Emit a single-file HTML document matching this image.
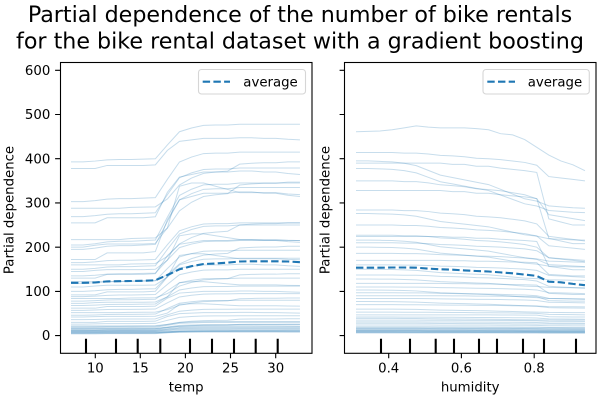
<!DOCTYPE html>
<html>
<head>
<meta charset="utf-8">
<style>
html,body{margin:0;padding:0;background:#fff;width:600px;height:400px;overflow:hidden;}
svg{display:block}
.ice path{fill:none;stroke:#1f77b4;stroke-opacity:.25;stroke-width:1;vector-effect:non-scaling-stroke}
text{font-family:"DejaVu Sans","Liberation Sans",sans-serif;fill:#000}
.s{font-size:13.3px}
</style>
</head>
<body>
<svg width="600" height="400" viewBox="0 0 600 400" xmlns="http://www.w3.org/2000/svg">
<rect x="0" y="0" width="600" height="400" fill="#fff"/>

<!-- Title -->
<text x="300" y="22" font-size="22.2" text-anchor="middle">Partial dependence of the number of bike rentals</text>
<text x="300" y="48.5" font-size="22.2" text-anchor="middle">for the bike rental dataset with a gradient boosting</text>

<!-- LEFT ICE lines -->
<g class="ice" transform="translate(71 335.6) scale(12.05 -0.4422)">
<path d="M0 0L1 0L2 .02L3 .05L4 .06L5 .06L6 .07L7 .08L8 .45L9 .8L10 .9L11 .97L12 .98L13 .98L14 1L19 1" transform="translate(0 393) scale(1 85)"/>
<path d="M0 0L2 0L3 .1L6 .1L7 .12L8 .6L9 .9L10 .95L11 1L13 1L14 1.02L15 1.02L16 1L17 1L18 .97L19 .95" transform="translate(0 378) scale(1 68)"/>
<path d="M0 0L1 0L2 .02L3 .05L4 .06L5 .06L6 .07L7 .08L8 .45L9 .8L10 .9L11 .97L12 .98L13 .98L14 1L19 1" transform="translate(0 303) scale(1 112)"/>
<path d="M0 0L4 0L5 .02L7 .03L8 .2L9 .5L10 .65L11 .75L12 .78L13 .8L14 .95L15 .97L16 .98L17 .98L18 1L19 1" transform="translate(0 288) scale(1 105)"/>
<path d="M0 0L1 0L2 .02L3 .05L4 .06L5 .06L6 .07L7 .08L8 .45L9 .8L10 .9L11 .97L12 .98L13 .98L14 1L19 1" transform="translate(0 269) scale(1 110)"/>
<path d="M0 0L2 0L3 .1L6 .1L7 .12L8 .6L9 .9L10 .95L11 1L13 1L14 1.02L15 1.02L16 1L17 1L18 .97L19 .95" transform="translate(0 255) scale(1 115)"/>
<path d="M0 0L4 0L5 .02L7 .03L8 .2L9 .5L10 .65L11 .75L12 .78L13 .8L14 .95L15 .97L16 .98L17 .98L18 1L19 1" transform="translate(0 217) scale(1 130)"/>
<path d="M0 0L1 0L2 .02L3 .05L4 .06L5 .06L6 .07L7 .08L8 .45L9 .8L10 .9L11 .97L12 .98L13 .98L14 1L19 1" transform="translate(0 205) scale(1 140)"/>
<path d="M0 0L1 0L2 .03L3 .05L6 .05L7 .06L8 .3L9 .95L10 1L11 1L12 .95L13 .9L14 .85L17 .85L18 .83L19 .82" transform="translate(0 200) scale(1 145)"/>
<path d="M0 0L1 0L2 .02L3 .05L4 .06L5 .06L6 .07L7 .08L8 .45L9 .8L10 .9L11 .97L12 .98L13 .98L14 1L19 1" transform="translate(0 195) scale(1 140)"/>
<path d="M0 0L2 0L3 .1L6 .1L7 .12L8 .6L9 .9L10 .95L11 1L13 1L14 1.02L15 1.02L16 1L17 1L18 .97L19 .95" transform="translate(0 172) scale(1 150)"/>
<path d="M0 0L1 0L2 .02L3 .05L4 .06L5 .06L6 .07L7 .08L8 .45L9 .8L10 .9L11 .97L12 .98L13 .98L14 1L19 1" transform="translate(0 165) scale(1 90)"/>
<path d="M0 0L4 0L5 .02L7 .03L8 .2L9 .5L10 .65L11 .75L12 .78L13 .8L14 .95L15 .97L16 .98L17 .98L18 1L19 1" transform="translate(0 160) scale(1 95)"/>
<path d="M0 0L1 0L2 .02L3 .05L4 .06L5 .06L6 .07L7 .08L8 .45L9 .8L10 .9L11 .97L12 .98L13 .98L14 1L19 1" transform="translate(0 150) scale(1 100)"/>
<path d="M0 0L1 0L2 .03L3 .05L6 .05L7 .06L8 .3L9 .95L10 1L11 1L12 .95L13 .9L14 .85L17 .85L18 .83L19 .82" transform="translate(0 145) scale(1 85)"/>
<path d="M0 0L1 0L2 .02L3 .05L4 .06L5 .06L6 .07L7 .08L8 .45L9 .8L10 .9L11 .97L12 .98L13 .98L14 1L19 1" transform="translate(0 135) scale(1 80)"/>
<path d="M0 0L2 0L3 .1L6 .1L7 .12L8 .6L9 .9L10 .95L11 1L13 1L14 1.02L15 1.02L16 1L17 1L18 .97L19 .95" transform="translate(0 130) scale(1 85)"/>
<path d="M0 0L4 0L5 .02L7 .03L8 .2L9 .5L10 .65L11 .75L12 .78L13 .8L14 .95L15 .97L16 .98L17 .98L18 1L19 1" transform="translate(0 122) scale(1 80)"/>
<path d="M0 0L1 0L2 .02L3 .05L4 .06L5 .06L6 .07L7 .08L8 .45L9 .8L10 .9L11 .97L12 .98L13 .98L14 1L19 1" transform="translate(0 118) scale(1 75)"/>
<path d="M0 0L1 0L2 .03L3 .05L6 .05L7 .06L8 .3L9 .95L10 1L11 1L12 .95L13 .9L14 .85L17 .85L18 .83L19 .82" transform="translate(0 110) scale(1 75)"/>
<path d="M0 0L1 0L2 .02L3 .05L4 .06L5 .06L6 .07L7 .08L8 .45L9 .8L10 .9L11 .97L12 .98L13 .98L14 1L19 1" transform="translate(0 100) scale(1 75)"/>
<path d="M0 0L2 0L3 .1L6 .1L7 .12L8 .6L9 .9L10 .95L11 1L13 1L14 1.02L15 1.02L16 1L17 1L18 .97L19 .95" transform="translate(0 92) scale(1 68)"/>
<path d="M0 0L1 0L2 .02L3 .05L4 .06L5 .06L6 .07L7 .08L8 .45L9 .8L10 .9L11 .97L12 .98L13 .98L14 1L19 1" transform="translate(0 88) scale(1 62)"/>
<path d="M0 0L4 0L5 .02L7 .03L8 .2L9 .5L10 .65L11 .75L12 .78L13 .8L14 .95L15 .97L16 .98L17 .98L18 1L19 1" transform="translate(0 84) scale(1 56)"/>
<path d="M0 0L1 0L2 .02L3 .05L4 .06L5 .06L6 .07L7 .08L8 .45L9 .8L10 .9L11 .97L12 .98L13 .98L14 1L19 1" transform="translate(0 78) scale(1 52)"/>
<path d="M0 0L1 0L2 .03L3 .05L6 .05L7 .06L8 .3L9 .95L10 1L11 1L12 .95L13 .9L14 .85L17 .85L18 .83L19 .82" transform="translate(0 73) scale(1 49)"/>
<path d="M0 0L1 0L2 .02L3 .05L4 .06L5 .06L6 .07L7 .08L8 .45L9 .8L10 .9L11 .97L12 .98L13 .98L14 1L19 1" transform="translate(0 68) scale(1 44)"/>
<path d="M0 0L2 0L3 .1L6 .1L7 .12L8 .6L9 .9L10 .95L11 1L13 1L14 1.02L15 1.02L16 1L17 1L18 .97L19 .95" transform="translate(0 62) scale(1 38)"/>
<path d="M0 0L1 0L2 .02L3 .05L4 .06L5 .06L6 .07L7 .08L8 .45L9 .8L10 .9L11 .97L12 .98L13 .98L14 1L19 1" transform="translate(0 57) scale(1 38)"/>
<path d="M0 0L4 0L5 .02L7 .03L8 .2L9 .5L10 .65L11 .75L12 .78L13 .8L14 .95L15 .97L16 .98L17 .98L18 1L19 1" transform="translate(0 52) scale(1 33)"/>
<path d="M0 0L1 0L2 .02L3 .05L4 .06L5 .06L6 .07L7 .08L8 .45L9 .8L10 .9L11 .97L12 .98L13 .98L14 1L19 1" transform="translate(0 46) scale(1 34)"/>
<path d="M0 0L1 0L2 .03L3 .05L6 .05L7 .06L8 .3L9 .95L10 1L11 1L12 .95L13 .9L14 .85L17 .85L18 .83L19 .82" transform="translate(0 42) scale(1 30)"/>
<path d="M0 0L1 0L2 .02L3 .05L4 .06L5 .06L6 .07L7 .08L8 .45L9 .8L10 .9L11 .97L12 .98L13 .98L14 1L19 1" transform="translate(0 36) scale(1 24)"/>
<path d="M0 0L2 0L3 .1L6 .1L7 .12L8 .6L9 .9L10 .95L11 1L13 1L14 1.02L15 1.02L16 1L17 1L18 .97L19 .95" transform="translate(0 30) scale(1 22)"/>
<path d="M0 0L1 0L2 .02L3 .05L4 .06L5 .06L6 .07L7 .08L8 .45L9 .8L10 .9L11 .97L12 .98L13 .98L14 1L19 1" transform="translate(0 26) scale(1 19)"/>
<path d="M0 0L4 0L5 .02L7 .03L8 .2L9 .5L10 .65L11 .75L12 .78L13 .8L14 .95L15 .97L16 .98L17 .98L18 1L19 1" transform="translate(0 22) scale(1 16)"/>
<path d="M0 0L1 0L2 .02L3 .05L4 .06L5 .06L6 .07L7 .08L8 .45L9 .8L10 .9L11 .97L12 .98L13 .98L14 1L19 1" transform="translate(0 18) scale(1 12)"/>
<path d="M0 0L1 0L2 .02L3 .05L4 .06L5 .06L6 .07L7 .08L8 .45L9 .8L10 .9L11 .97L12 .98L13 .98L14 1L19 1" transform="translate(0 15) scale(1 10)"/>
<path d="M0 0L2 0L3 .1L6 .1L7 .12L8 .6L9 .9L10 .95L11 1L13 1L14 1.02L15 1.02L16 1L17 1L18 .97L19 .95" transform="translate(0 13) scale(1 9)"/>
<path d="M0 0L1 0L2 .02L3 .05L4 .06L5 .06L6 .07L7 .08L8 .45L9 .8L10 .9L11 .97L12 .98L13 .98L14 1L19 1" transform="translate(0 11) scale(1 7)"/>
<path d="M0 0L1 0L2 .02L3 .05L4 .06L5 .06L6 .07L7 .08L8 .45L9 .8L10 .9L11 .97L12 .98L13 .98L14 1L19 1" transform="translate(0 9) scale(1 5)"/>
<path d="M0 0L4 0L5 .02L7 .03L8 .2L9 .5L10 .65L11 .75L12 .78L13 .8L14 .95L15 .97L16 .98L17 .98L18 1L19 1" transform="translate(0 8) scale(1 4)"/>
<path d="M0 0L1 0L2 .02L3 .05L4 .06L5 .06L6 .07L7 .08L8 .45L9 .8L10 .9L11 .97L12 .98L13 .98L14 1L19 1" transform="translate(0 6) scale(1 4)"/>
<path d="M0 0L1 0L2 .02L3 .05L4 .06L5 .06L6 .07L7 .08L8 .45L9 .8L10 .9L11 .97L12 .98L13 .98L14 1L19 1" transform="translate(0 5) scale(1 4)"/>
<path d="M0 0L2 0L3 .1L6 .1L7 .12L8 .6L9 .9L10 .95L11 1L13 1L14 1.02L15 1.02L16 1L17 1L18 .97L19 .95" transform="translate(0 4) scale(1 4)"/>
<path d="M0 0L1 0L2 .02L3 .05L4 .06L5 .06L6 .07L7 .08L8 .45L9 .8L10 .9L11 .97L12 .98L13 .98L14 1L19 1" transform="translate(0 12) scale(1 8)"/>
<path d="M0 0L1 0L2 .02L3 .05L4 .06L5 .06L6 .07L7 .08L8 .45L9 .8L10 .9L11 .97L12 .98L13 .98L14 1L19 1" transform="translate(0 10) scale(1 6)"/>
<path d="M0 0L1 0L2 .02L3 .05L4 .06L5 .06L6 .07L7 .08L8 .45L9 .8L10 .9L11 .97L12 .98L13 .98L14 1L19 1" transform="translate(0 7) scale(1 4)"/>
<path d="M0 0L4 0L5 .02L7 .03L8 .2L9 .5L10 .65L11 .75L12 .78L13 .8L14 .95L15 .97L16 .98L17 .98L18 1L19 1" transform="translate(0 16) scale(1 10)"/>
<path d="M0 0L1 0L2 .02L3 .05L4 .06L5 .06L6 .07L7 .08L8 .45L9 .8L10 .9L11 .97L12 .98L13 .98L14 1L19 1" transform="translate(0 20) scale(1 12)"/>
</g>

<!-- RIGHT ICE lines -->
<g class="ice" transform="translate(356 335.6) scale(12.05 -0.4422)">
<path d="M0 0L2 -.02L3 -.05L4 -.1L5 -.15L6 -.12L7 -.1L9 -.1L10 -.08L11 -.05L12 .05L13 .08L14 .2L15 .4L16 .6L17 .75L18 .85L19 1" transform="translate(0 461) scale(1 -88)"/>
<path d="M0 0L3 0L4 .02L5 .02L6 .05L7 .1L8 .12L9 .15L10 .2L11 .22L12 .25L13 .3L14 .35L15 .45L16 .85L17 .9L18 .95L19 1" transform="translate(0 414) scale(1 -64)"/>
<path d="M0 0L1 0L2 .01L3 .02L4 .05L5 .1L6 .2L7 .3L8 .35L9 .4L10 .45L11 .5L12 .6L13 .7L14 .8L15 .85L16 .95L17 .97L18 .99L19 1" transform="translate(0 395) scale(1 -107)"/>
<path d="M0 0L7 0L8 .02L9 .02L10 .05L11 .05L12 .08L13 .1L14 .12L15 .15L16 .9L17 .95L18 1L19 1" transform="translate(0 390) scale(1 -140)"/>
<path d="M0 0L1 0L2 .01L3 .02L4 .05L5 .1L6 .2L7 .3L8 .35L9 .4L10 .45L11 .5L12 .6L13 .7L14 .8L15 .85L16 .95L17 .97L18 .99L19 1" transform="translate(0 378) scale(1 -100)"/>
<path d="M0 0L3 0L4 .02L5 .02L6 .05L7 .1L8 .12L9 .15L10 .2L11 .22L12 .25L13 .3L14 .35L15 .45L16 .85L17 .9L18 .95L19 1" transform="translate(0 350) scale(1 -90)"/>
<path d="M0 0L7 0L8 .02L9 .02L10 .05L11 .05L12 .08L13 .1L14 .12L15 .15L16 .9L17 .95L18 1L19 1" transform="translate(0 328) scale(1 -120)"/>
<path d="M0 0L3 0L4 .02L5 .02L6 .05L7 .1L8 .12L9 .15L10 .2L11 .22L12 .25L13 .3L14 .35L15 .45L16 .85L17 .9L18 .95L19 1" transform="translate(0 284) scale(1 -70)"/>
<path d="M0 0L1 0L2 .01L3 .02L4 .05L5 .1L6 .2L7 .3L8 .35L9 .4L10 .45L11 .5L12 .6L13 .7L14 .8L15 .85L16 .95L17 .97L18 .99L19 1" transform="translate(0 276) scale(1 -60)"/>
<path d="M0 0L3 0L4 .02L5 .02L6 .05L7 .1L8 .12L9 .15L10 .2L11 .22L12 .25L13 .3L14 .35L15 .45L16 .85L17 .9L18 .95L19 1" transform="translate(0 250) scale(1 -55)"/>
<path d="M0 0L3 0L4 .02L5 .02L6 .05L7 .1L8 .12L9 .15L10 .2L11 .22L12 .25L13 .3L14 .35L15 .45L16 .85L17 .9L18 .95L19 1" transform="translate(0 227) scale(1 -60)"/>
<path d="M0 0L7 0L8 .02L9 .02L10 .05L11 .05L12 .08L13 .1L14 .12L15 .15L16 .9L17 .95L18 1L19 1" transform="translate(0 224) scale(1 -75)"/>
<path d="M0 0L1 0L2 .01L3 .02L4 .05L5 .1L6 .2L7 .3L8 .35L9 .4L10 .45L11 .5L12 .6L13 .7L14 .8L15 .85L16 .95L17 .97L18 .99L19 1" transform="translate(0 216) scale(1 -50)"/>
<path d="M0 0L3 0L4 .02L5 .02L6 .05L7 .1L8 .12L9 .15L10 .2L11 .22L12 .25L13 .3L14 .35L15 .45L16 .85L17 .9L18 .95L19 1" transform="translate(0 210) scale(1 -40)"/>
<path d="M0 0L1 0L2 .01L3 .02L4 .05L5 .1L6 .2L7 .3L8 .35L9 .4L10 .45L11 .5L12 .6L13 .7L14 .8L15 .85L16 .95L17 .97L18 .99L19 1" transform="translate(0 200) scale(1 -45)"/>
<path d="M0 0L3 0L4 .02L5 .02L6 .05L7 .1L8 .12L9 .15L10 .2L11 .22L12 .25L13 .3L14 .35L15 .45L16 .85L17 .9L18 .95L19 1" transform="translate(0 186) scale(1 -30)"/>
<path d="M0 0L7 0L8 .02L9 .02L10 .05L11 .05L12 .08L13 .1L14 .12L15 .15L16 .9L17 .95L18 1L19 1" transform="translate(0 170) scale(1 -35)"/>
<path d="M0 0L3 0L4 .02L5 .02L6 .05L7 .1L8 .12L9 .15L10 .2L11 .22L12 .25L13 .3L14 .35L15 .45L16 .85L17 .9L18 .95L19 1" transform="translate(0 160) scale(1 -28)"/>
<path d="M0 0L1 0L2 .01L3 .02L4 .05L5 .1L6 .2L7 .3L8 .35L9 .4L10 .45L11 .5L12 .6L13 .7L14 .8L15 .85L16 .95L17 .97L18 .99L19 1" transform="translate(0 150) scale(1 -25)"/>
<path d="M0 0L3 0L4 .02L5 .02L6 .05L7 .1L8 .12L9 .15L10 .2L11 .22L12 .25L13 .3L14 .35L15 .45L16 .85L17 .9L18 .95L19 1" transform="translate(0 137) scale(1 -30)"/>
<path d="M0 0L1 0L2 .01L3 .02L4 .05L5 .1L6 .2L7 .3L8 .35L9 .4L10 .45L11 .5L12 .6L13 .7L14 .8L15 .85L16 .95L17 .97L18 .99L19 1" transform="translate(0 128) scale(1 -20)"/>
<path d="M0 0L7 0L8 .02L9 .02L10 .05L11 .05L12 .08L13 .1L14 .12L15 .15L16 .9L17 .95L18 1L19 1" transform="translate(0 118) scale(1 -25)"/>
<path d="M0 0L3 0L4 .02L5 .02L6 .05L7 .1L8 .12L9 .15L10 .2L11 .22L12 .25L13 .3L14 .35L15 .45L16 .85L17 .9L18 .95L19 1" transform="translate(0 110) scale(1 -15)"/>
<path d="M0 0L1 0L2 .01L3 .02L4 .05L5 .1L6 .2L7 .3L8 .35L9 .4L10 .45L11 .5L12 .6L13 .7L14 .8L15 .85L16 .95L17 .97L18 .99L19 1" transform="translate(0 103) scale(1 -20)"/>
<path d="M0 0L3 0L4 .02L5 .02L6 .05L7 .1L8 .12L9 .15L10 .2L11 .22L12 .25L13 .3L14 .35L15 .45L16 .85L17 .9L18 .95L19 1" transform="translate(0 97) scale(1 -15)"/>
<path d="M0 0L7 0L8 .02L9 .02L10 .05L11 .05L12 .08L13 .1L14 .12L15 .15L16 .9L17 .95L18 1L19 1" transform="translate(0 90) scale(1 -12)"/>
<path d="M0 0L3 0L4 .02L5 .02L6 .05L7 .1L8 .12L9 .15L10 .2L11 .22L12 .25L13 .3L14 .35L15 .45L16 .85L17 .9L18 .95L19 1" transform="translate(0 84) scale(1 -10)"/>
<path d="M0 0L1 0L2 .01L3 .02L4 .05L5 .1L6 .2L7 .3L8 .35L9 .4L10 .45L11 .5L12 .6L13 .7L14 .8L15 .85L16 .95L17 .97L18 .99L19 1" transform="translate(0 77) scale(1 -12)"/>
<path d="M0 0L3 0L4 .02L5 .02L6 .05L7 .1L8 .12L9 .15L10 .2L11 .22L12 .25L13 .3L14 .35L15 .45L16 .85L17 .9L18 .95L19 1" transform="translate(0 70) scale(1 -8)"/>
<path d="M0 0L1 0L2 .01L3 .02L4 .05L5 .1L6 .2L7 .3L8 .35L9 .4L10 .45L11 .5L12 .6L13 .7L14 .8L15 .85L16 .95L17 .97L18 .99L19 1" transform="translate(0 60) scale(1 -8)"/>
<path d="M0 0L3 0L4 .02L5 .02L6 .05L7 .1L8 .12L9 .15L10 .2L11 .22L12 .25L13 .3L14 .35L15 .45L16 .85L17 .9L18 .95L19 1" transform="translate(0 53) scale(1 -6)"/>
<path d="M0 0L7 0L8 .02L9 .02L10 .05L11 .05L12 .08L13 .1L14 .12L15 .15L16 .9L17 .95L18 1L19 1" transform="translate(0 47) scale(1 -5)"/>
<path d="M0 0L3 0L4 .02L5 .02L6 .05L7 .1L8 .12L9 .15L10 .2L11 .22L12 .25L13 .3L14 .35L15 .45L16 .85L17 .9L18 .95L19 1" transform="translate(0 42) scale(1 -5)"/>
<path d="M0 0L1 0L2 .01L3 .02L4 .05L5 .1L6 .2L7 .3L8 .35L9 .4L10 .45L11 .5L12 .6L13 .7L14 .8L15 .85L16 .95L17 .97L18 .99L19 1" transform="translate(0 39) scale(1 -4)"/>
<path d="M0 0L3 0L4 .02L5 .02L6 .05L7 .1L8 .12L9 .15L10 .2L11 .22L12 .25L13 .3L14 .35L15 .45L16 .85L17 .9L18 .95L19 1" transform="translate(0 35) scale(1 -3)"/>
<path d="M0 0L3 0L4 .02L5 .02L6 .05L7 .1L8 .12L9 .15L10 .2L11 .22L12 .25L13 .3L14 .35L15 .45L16 .85L17 .9L18 .95L19 1" transform="translate(0 31) scale(1 -3)"/>
<path d="M0 0L1 0L2 .01L3 .02L4 .05L5 .1L6 .2L7 .3L8 .35L9 .4L10 .45L11 .5L12 .6L13 .7L14 .8L15 .85L16 .95L17 .97L18 .99L19 1" transform="translate(0 28) scale(1 -2)"/>
<path d="M0 0L3 0L4 .02L5 .02L6 .05L7 .1L8 .12L9 .15L10 .2L11 .22L12 .25L13 .3L14 .35L15 .45L16 .85L17 .9L18 .95L19 1" transform="translate(0 24) scale(1 -2)"/>
<path d="M0 0L3 0L4 .02L5 .02L6 .05L7 .1L8 .12L9 .15L10 .2L11 .22L12 .25L13 .3L14 .35L15 .45L16 .85L17 .9L18 .95L19 1" transform="translate(0 20) scale(1 -2)"/>
<path d="M0 0L1 0L2 .01L3 .02L4 .05L5 .1L6 .2L7 .3L8 .35L9 .4L10 .45L11 .5L12 .6L13 .7L14 .8L15 .85L16 .95L17 .97L18 .99L19 1" transform="translate(0 18) scale(1 -1)"/>
<path d="M0 0L3 0L4 .02L5 .02L6 .05L7 .1L8 .12L9 .15L10 .2L11 .22L12 .25L13 .3L14 .35L15 .45L16 .85L17 .9L18 .95L19 1" transform="translate(0 15) scale(1 -1)"/>
<path d="M0 0L3 0L4 .02L5 .02L6 .05L7 .1L8 .12L9 .15L10 .2L11 .22L12 .25L13 .3L14 .35L15 .45L16 .85L17 .9L18 .95L19 1" transform="translate(0 13) scale(1 -1)"/>
<path d="M0 0L1 0L2 .01L3 .02L4 .05L5 .1L6 .2L7 .3L8 .35L9 .4L10 .45L11 .5L12 .6L13 .7L14 .8L15 .85L16 .95L17 .97L18 .99L19 1" transform="translate(0 11) scale(1 -1)"/>
<path d="M0 0L3 0L4 .02L5 .02L6 .05L7 .1L8 .12L9 .15L10 .2L11 .22L12 .25L13 .3L14 .35L15 .45L16 .85L17 .9L18 .95L19 1" transform="translate(0 10) scale(1 -1)"/>
<path d="M0 0L3 0L4 .02L5 .02L6 .05L7 .1L8 .12L9 .15L10 .2L11 .22L12 .25L13 .3L14 .35L15 .45L16 .85L17 .9L18 .95L19 1" transform="translate(0 9) scale(1 -1)"/>
<path d="M0 0L3 0L4 .02L5 .02L6 .05L7 .1L8 .12L9 .15L10 .2L11 .22L12 .25L13 .3L14 .35L15 .45L16 .85L17 .9L18 .95L19 1" transform="translate(0 8) scale(1 -0.5)"/>
<path d="M0 0L3 0L4 .02L5 .02L6 .05L7 .1L8 .12L9 .15L10 .2L11 .22L12 .25L13 .3L14 .35L15 .45L16 .85L17 .9L18 .95L19 1" transform="translate(0 7) scale(1 -0.5)"/>
<path d="M0 0L3 0L4 .02L5 .02L6 .05L7 .1L8 .12L9 .15L10 .2L11 .22L12 .25L13 .3L14 .35L15 .45L16 .85L17 .9L18 .95L19 1" transform="translate(0 6) scale(1 -0.5)"/>
<path d="M0 0L3 0L4 .02L5 .02L6 .05L7 .1L8 .12L9 .15L10 .2L11 .22L12 .25L13 .3L14 .35L15 .45L16 .85L17 .9L18 .95L19 1" transform="translate(0 12) scale(1 -1)"/>
<path d="M0 0L3 0L4 .02L5 .02L6 .05L7 .1L8 .12L9 .15L10 .2L11 .22L12 .25L13 .3L14 .35L15 .45L16 .85L17 .9L18 .95L19 1" transform="translate(0 16) scale(1 -1)"/>
</g>

<!-- Average lines -->
<g fill="none" stroke="#1f77b4" stroke-width="2.08" stroke-dasharray="7.4 3.3">
<path d="M71 282.8L83.05 282.8L95.1 282.5L107.15 281.4L119.2 281.2L131.25 281L143.3 280.8L155.35 280.3L167.4 275L179.45 269.3L191.5 266.2L203.55 264L215.6 263.5L227.65 262.6L239.7 261.5L251.75 261.3L263.8 261.3L275.85 261.3L287.9 261.5L299.95 262.2"/>
<path d="M356 267.7L368.05 267.7L380.1 267.7L392.15 267.5L404.2 267.5L416.25 267.7L428.3 268.6L440.35 269.3L452.4 269.7L464.45 270.4L476.5 271L488.55 271.5L500.6 272.4L512.65 273.3L524.7 274.6L536.75 275.9L548.8 281.7L560.85 282.3L572.9 283.9L584.95 285.2"/>
</g>

<!-- Rug (deciles) -->
<path d="M86 338.8V353.3M116 338.8V353.3M137.7 338.8V353.3M160.3 338.8V353.3M190 338.8V353.3M212 338.8V353.3M234 338.8V353.3M255.7 338.8V353.3M277.7 338.8V353.3" stroke="#000" stroke-width="2.08" fill="none"/>
<path d="M381 338.8V353.3M410 338.8V353.3M435.7 338.8V353.3M454 338.8V353.3M479 338.8V353.3M497 338.8V353.3M523 338.8V353.3M544 338.8V353.3M576 338.8V353.3" stroke="#000" stroke-width="2.08" fill="none"/>

<!-- Spines -->
<rect x="60.5" y="62.5" width="251.5" height="290.8" fill="none" stroke="#000" stroke-width="1.1"/>
<rect x="344.5" y="62.5" width="251.5" height="290.8" fill="none" stroke="#000" stroke-width="1.1"/>

<!-- Ticks -->
<path d="M55.1 335.6H60M55.1 291.4H60M55.1 247.2H60M55.1 202.9H60M55.1 158.7H60M55.1 114.5H60M55.1 70.3H60" stroke="#000" stroke-width="1.1"/>
<path d="M339.6 335.6H344.5M339.6 291.4H344.5M339.6 247.2H344.5M339.6 202.9H344.5M339.6 158.7H344.5M339.6 114.5H344.5M339.6 70.3H344.5" stroke="#000" stroke-width="1.1"/>
<path d="M95.3 353.3V358.2M140.3 353.3V358.2M185.4 353.3V358.2M230.5 353.3V358.2M275.7 353.3V358.2" stroke="#000" stroke-width="1.1"/>
<path d="M388.7 353.3V358.2M461.4 353.3V358.2M534.2 353.3V358.2" stroke="#000" stroke-width="1.1"/>

<!-- Y tick labels -->
<g class="s" text-anchor="end">
<text x="50.3" y="340.2">0</text>
<text x="50.3" y="296">100</text>
<text x="50.3" y="251.8">200</text>
<text x="50.3" y="207.5">300</text>
<text x="50.3" y="163.3">400</text>
<text x="50.3" y="119.1">500</text>
<text x="50.3" y="74.9">600</text>
</g>

<!-- X tick labels -->
<g class="s" text-anchor="middle">
<text x="95.3" y="372.6">10</text>
<text x="140.3" y="372.6">15</text>
<text x="185.4" y="372.6">20</text>
<text x="230.5" y="372.6">25</text>
<text x="275.7" y="372.6">30</text>
<text x="388.7" y="372.6">0.4</text>
<text x="461.4" y="372.6">0.6</text>
<text x="534.2" y="372.6">0.8</text>
<text x="186.2" y="391.5">temp</text>
<text x="470.2" y="391.5">humidity</text>
</g>

<!-- Y axis labels -->
<text class="s" text-anchor="middle" transform="translate(13.3 210) rotate(-90)">Partial dependence</text>
<text class="s" text-anchor="middle" transform="translate(329.5 210) rotate(-90)">Partial dependence</text>

<!-- Legends -->
<rect x="198.5" y="69.5" width="107" height="24.5" rx="3" ry="3" fill="#fff" fill-opacity="0.8" stroke="#d6d6d6" stroke-width="1.1"/>
<path d="M202.7 81.7H230" stroke="#1f77b4" stroke-width="2.08" stroke-dasharray="7.4 3.3" fill="none"/>
<text class="s" x="243.3" y="86.5">average</text>

<rect x="483" y="69.5" width="106.3" height="24.5" rx="3" ry="3" fill="#fff" fill-opacity="0.8" stroke="#d6d6d6" stroke-width="1.1"/>
<path d="M487.3 81.7H515" stroke="#1f77b4" stroke-width="2.08" stroke-dasharray="7.4 3.3" fill="none"/>
<text class="s" x="527.7" y="86.5">average</text>
</svg>
</body>
</html>
